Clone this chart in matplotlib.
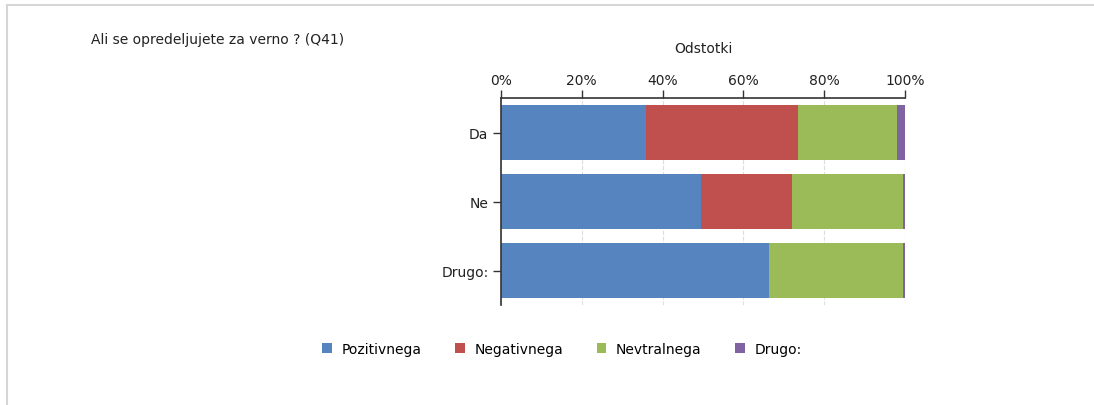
import numpy as np
import matplotlib
matplotlib.use("Agg")
import matplotlib.pyplot as plt
from matplotlib.patches import Rectangle
from matplotlib.lines import Line2D

categories = ["Da", "Ne", "Drugo:"]
series_names = ["Pozitivnega", "Negativnega", "Nevtralnega", "Drugo:"]
pozitivnega = [35.8, 49.6, 66.4]
negativnega = [37.6, 22.4, 0.0]
nevtralnega = [24.7, 27.5, 33.1]
drugo = [1.9, 0.5, 0.5]
colors = ["#5584bf", "#c0504d", "#9bbb59", "#8064a2"]
tick_vals = [0, 20, 40, 60, 80, 100]

plt.rcParams["font.family"] = "DejaVu Sans"
plt.rcParams["hatch.color"] = "#d9d9d9"
plt.rcParams["hatch.linewidth"] = 0.8

W, H = 1094, 406
fig = plt.figure(figsize=(W / 100, H / 100), dpi=100)

# page frame: top and left edges only
fig.add_artist(Line2D([7 / W, 1093 / W], [1 - 6 / H, 1 - 6 / H], color="#d6d6d6", lw=1.5))
fig.add_artist(Line2D([7 / W, 7 / W], [0, 1 - 6 / H], color="#d6d6d6", lw=1.5))

x0, x1, y0, y1 = 501, 905, 99, 306
ax = fig.add_axes([x0 / W, 1 - y1 / H, (x1 - x0) / W, (y1 - y0) / H])

# hatched plot background
ax.add_patch(Rectangle((0, 0), 1, 1, transform=ax.transAxes, facecolor="white",
                       edgecolor="none", hatch="//////", zorder=0))

y = np.arange(len(categories))
left = np.zeros(len(categories))
for name, vals, c in zip(series_names, [pozitivnega, negativnega, nevtralnega, drugo], colors):
    vals = np.array(vals)
    ax.barh(y, vals, left=left, height=0.81, color=c, label=name, zorder=3)
    left += vals

ax.set_xlim(0, 100)
ax.set_ylim(len(categories) - 0.5, -0.5)
ax.set_xticks(tick_vals)
ax.set_xticklabels([f"{v}%" for v in tick_vals], fontsize=10, color="#222222")
ax.xaxis.tick_top()
ax.xaxis.set_label_position("top")
ax.set_xlabel("Odstotki", fontsize=10, color="#222222", labelpad=15)
ax.set_yticks(y)
ax.set_yticklabels(categories, fontsize=10, color="#222222")
ax.tick_params(axis="x", length=6, width=1, color="#333333", pad=2)
ax.tick_params(axis="y", length=6, width=1, color="#333333", pad=3)
ax.grid(axis="x", color="#dddddd", linestyle="--", linewidth=0.8, zorder=1)
for s in ["right", "bottom"]:
    ax.spines[s].set_visible(False)
for s in ["top", "left"]:
    ax.spines[s].set_color("#333333")
    ax.spines[s].set_linewidth(1.2)
    ax.spines[s].set_zorder(4)

fig.text(91 / W, 1 - 40 / H, "Ali se opredeljujete za verno ? (Q41)", fontsize=10,
         color="#222222", va="center", ha="left")

fig.legend(loc="center", bbox_to_anchor=(562 / W, 1 - 350 / H), ncol=4, frameon=False,
           fontsize=10, handlelength=0.7, handleheight=0.7, handletextpad=0.7,
           columnspacing=2.4)

fig.savefig("out.png", dpi=100)
